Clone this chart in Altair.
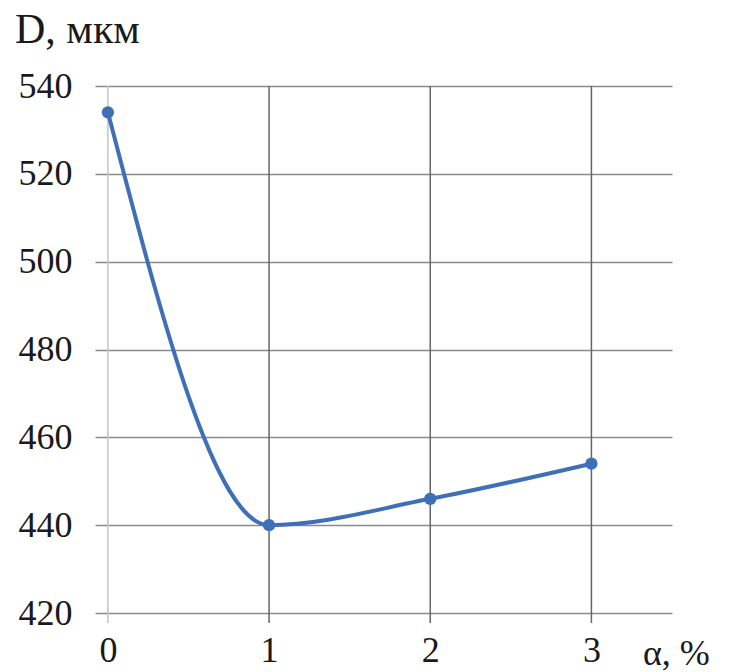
import altair as alt
import pandas as pd

alpha = [0, 1, 2, 3]
D = [534, 440, 446, 454]
y_ticks = [420, 440, 460, 480, 500, 520, 540]
x_ticks = [0, 1, 2, 3]
vline_x = [1, 2, 3]
y_title = "D, мкм"
x_title = "α, %"

FONT = "Liberation Serif"
W, H = 577, 527

df = pd.DataFrame({"alpha": alpha, "D": D})
vdf = pd.DataFrame({"x": vline_x})
v0 = pd.DataFrame({"x": [0]})

xscale = alt.Scale(domain=[-0.08, 3.5], nice=False, zero=False)
yscale = alt.Scale(domain=[420, 540], nice=False, zero=False)

base = alt.Chart(df)

line = base.mark_line(interpolate="monotone", color="#3F6FB7", strokeWidth=4).encode(
    x=alt.X("alpha:Q", scale=xscale,
            axis=alt.Axis(values=x_ticks, title=None, grid=False, domain=False, ticks=False,
                          labelFont=FONT, labelFontSize=36, labelColor="#1a1a1a",
                          labelPadding=20, format="d")),
    y=alt.Y("D:Q", scale=yscale,
            axis=alt.Axis(values=y_ticks, title=None, grid=True, gridColor="#8a8a8a",
                          gridWidth=1.5, domain=False, ticks=False,
                          labelFont=FONT, labelFontSize=36, labelColor="#1a1a1a",
                          labelPadding=23)),
)

points = base.mark_point(filled=True, size=150, color="#3F6FB7", opacity=1).encode(
    x=alt.X("alpha:Q", scale=xscale), y=alt.Y("D:Q", scale=yscale)
)

vrules = alt.Chart(vdf).mark_rule(color="#666666", strokeWidth=1.5).encode(
    x=alt.X("x:Q", scale=xscale), y=alt.value(0), y2=alt.value(H + 10)
)
vrule0 = alt.Chart(v0).mark_rule(color="#c4c4c4", strokeWidth=1.5).encode(
    x=alt.X("x:Q", scale=xscale), y=alt.value(0), y2=alt.value(H + 10)
)

ytitle = alt.Chart(pd.DataFrame({"t": [y_title]})).mark_text(
    font=FONT, fontSize=42, color="#1a1a1a", align="left", baseline="alphabetic"
).encode(text="t:N", x=alt.value(-80), y=alt.value(-43))

xtitle = alt.Chart(pd.DataFrame({"t": [x_title]})).mark_text(
    font=FONT, fontSize=36, color="#1a1a1a", align="left", baseline="alphabetic"
).encode(text="t:N", x=alt.value(548), y=alt.value(579))

chart = alt.layer(vrule0, vrules, line, points, ytitle, xtitle).properties(
    width=W, height=H,
    autosize=alt.AutoSizeParams(type="none"),
    padding={"left": 95, "top": 86, "right": 70, "bottom": 59},
    background="white",
).configure(font=FONT).configure_view(strokeWidth=0)

chart.save("out.html", embed_options={"renderer": "svg", "actions": False})
